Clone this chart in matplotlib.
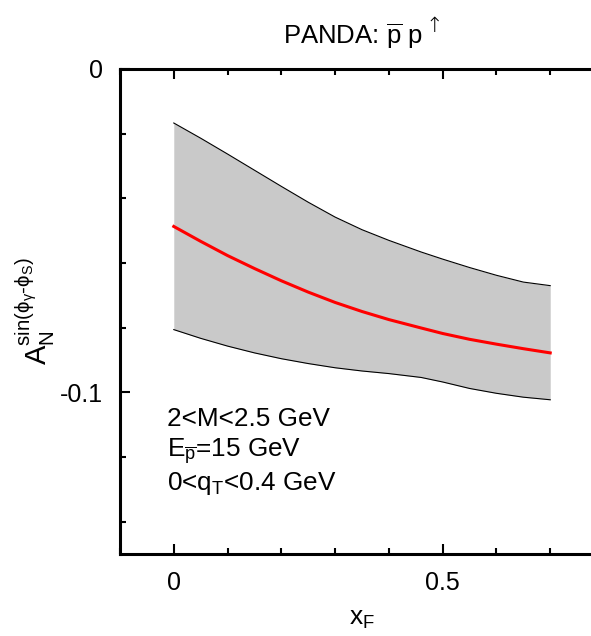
import matplotlib
matplotlib.use('Agg')
import matplotlib.pyplot as plt

plt.rcParams['font.family'] = ['Liberation Sans', 'DejaVu Sans']
plt.rcParams['mathtext.fontset'] = 'custom'
plt.rcParams['mathtext.rm'] = 'Liberation Sans'
plt.rcParams['mathtext.it'] = 'Liberation Sans:italic'
plt.rcParams['mathtext.sf'] = 'Liberation Sans'

# values
xf = [0.0, 0.05, 0.1, 0.15, 0.2, 0.25, 0.3, 0.35, 0.4, 0.46, 0.5, 0.55, 0.6, 0.65, 0.7]
upper = [-0.0167, -0.0214, -0.0263, -0.0313, -0.0363, -0.0412, -0.0458, -0.0497,
         -0.0530, -0.0566, -0.0588, -0.0614, -0.0638, -0.0659, -0.0670]
central = [-0.0487, -0.0533, -0.0577, -0.0617, -0.0655, -0.0690, -0.0722, -0.0750,
           -0.0775, -0.0801, -0.0818, -0.0836, -0.0851, -0.0865, -0.0878]
lower = [-0.0806, -0.0833, -0.0857, -0.0878, -0.0896, -0.0911, -0.0924, -0.0934,
         -0.0942, -0.0954, -0.0968, -0.0988, -0.1003, -0.1015, -0.1023]

notes = ['2<M<2.5 GeV', r'E$_{\overline{\rm p}}$=15 GeV', r'0<q$_{\rm T}$<0.4 GeV']
note_y = [-0.1103, -0.1198, -0.1301]

fig = plt.figure(figsize=(5.91, 6.36), dpi=100)
ax = fig.add_axes([120/591, 1 - 554/636, 484/591, 485/636])

ax.fill_between(xf, lower, upper, color='#c9c9c9', lw=0)
ax.plot(xf, upper, color='black', lw=0.8)
ax.plot(xf, lower, color='black', lw=0.8)
ax.plot(xf, central, color='red', lw=2.2)

ax.set_xlim(-0.1, 0.8)
ax.set_ylim(-0.15, 0)
ax.set_xticks([0, 0.5])
ax.set_xticklabels(['0', '0.5'])
ax.set_xticks([-0.1, 0.1, 0.2, 0.3, 0.4, 0.6, 0.7, 0.8], minor=True)
ax.set_yticks([-0.1, 0])
ax.set_yticklabels(['-0.1', '0'])
ax.set_yticks([-0.14, -0.12, -0.08, -0.06, -0.04, -0.02], minor=True)

for s in ax.spines.values():
    s.set_linewidth(2.2)
ax.tick_params(which='both', direction='in', top=True, right=True, width=1.5)
ax.tick_params(which='major', length=7, labelsize=18, pad=12)
ax.tick_params(which='minor', length=4)

for t, y in zip(notes, note_y):
    ax.text(-0.012, y, t, fontsize=18.8, va='baseline', ha='left')

ax.set_xlabel(r'x$_{\rm F}$', fontsize=19, labelpad=9)
ax.set_ylabel(r'A$_{\rm N}^{\rm sin(\phi_\gamma\text{-}\phi_S)}$', fontsize=21, labelpad=2)

fig.text(283/591, 1 - 44/636, r'PANDA: $\overline{\rm p}$ p', fontsize=18.5, ha='left', va='baseline')
fig.text(434/591, 1 - 26/636, '\u2191', fontsize=15, ha='center', va='center',
         family=['DejaVu Sans'], fontweight='light')

fig.savefig('out.png', dpi=100)
